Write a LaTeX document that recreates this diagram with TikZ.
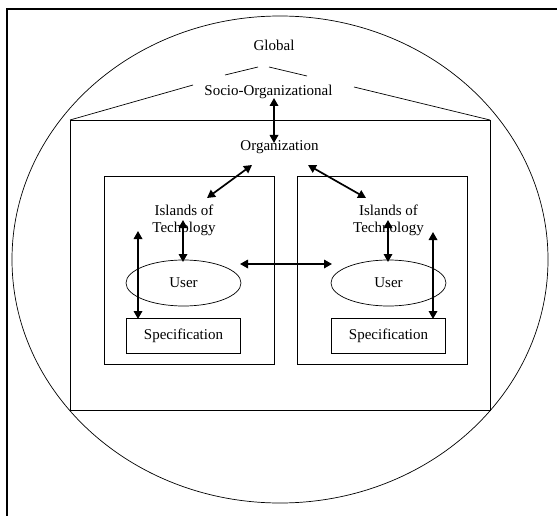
\documentclass[tikz,border=0pt]{standalone}
\usepackage{fontspec}
\setmainfont{Liberation Serif}
\usetikzlibrary{arrows.meta,shapes.geometric}
\begin{document}
\begin{tikzpicture}[x=1pt,y=-1pt,
  txt/.style={font=\fontsize{15}{17}\selectfont, inner sep=0pt, align=center},
  thinline/.style={line width=0.7pt},
  biarrow/.style={line width=1.7pt, {Triangle[length=8pt,width=8.5pt]}-{Triangle[length=8pt,width=8.5pt]}},
  userstyle/.style={draw, thinline, ellipse, inner sep=0pt, minimum width=115pt, minimum height=46pt, font=\fontsize{15}{17}\selectfont},
  specstyle/.style={draw, thinline, rectangle, inner sep=0pt, minimum width=114pt, minimum height=35pt, font=\fontsize{15}{17}\selectfont},
]
\useasboundingbox (0,0) rectangle (557,516);
\fill[white] (0,0) rectangle (557,516);
% outer frame
\draw[line width=1.2pt] (7,520) -- (7,9) -- (560,9);
% global ellipse
\draw[thinline] (280,259.5) ellipse [x radius=268, y radius=243.5];
% organization box with roof
\draw[thinline] (70,120) rectangle (490,410);
\draw[thinline] (70,120) -- (193,85);
\draw[thinline] (354,87) -- (490,120);
\draw[thinline] (225,75) -- (258,67);
\draw[thinline] (269,67) -- (307,76);
% islands boxes
\draw[thinline] (104,176) rectangle (274,364);
\draw[thinline] (297,176) rectangle (467,364);

% texts
\node[txt, anchor=base] (global) at (274,51) {Global};
\node[txt, anchor=base] (socio) at (268.5,96) {Socio-Organizational};
\node[txt, anchor=base] (org) at (279.5,150) {Organization};
\node[txt, anchor=north] (islL) at (184,204.5) {Islands of\\Techology};
\node[txt, anchor=north] (islR) at (388.5,204.5) {Islands of\\Technology};
\node[userstyle] (userL) at (183.5,283) {User};
\node[userstyle] (userR) at (388.5,283) {User};
\node[specstyle] (specL) at (183.5,335.5) {Specification};
\node[specstyle] (specR) at (388.5,335.5) {Specification};

% connector end points
\coordinate (soB) at (274,98);
\coordinate (orgT) at (274,143);
\coordinate (orgL) at (252,165);
\coordinate (islLT) at (207,198);
\coordinate (orgR) at (308,165);
\coordinate (islRT) at (366,198);
\coordinate (islLB) at (183,220);
\coordinate (userLT) at (183,262);
\coordinate (islRB) at (388,220);
\coordinate (userRT) at (388,262);
\coordinate (longLT) at (138,231);
\coordinate (specLT) at (138,319);
\coordinate (longRT) at (433,232);
\coordinate (specRT) at (433,319);
\coordinate (userLE) at (240,264);
\coordinate (userRW) at (332,264);

\draw[biarrow] (soB) -- (orgT);
\draw[biarrow] (orgL) -- (islLT);
\draw[biarrow] (orgR) -- (islRT);
\draw[biarrow] (islLB) -- (userLT);
\draw[biarrow] (islRB) -- (userRT);
\draw[biarrow] (longLT) -- (specLT);
\draw[biarrow] (longRT) -- (specRT);
\draw[biarrow] (userLE) -- (userRW);
\end{tikzpicture}
\end{document}
